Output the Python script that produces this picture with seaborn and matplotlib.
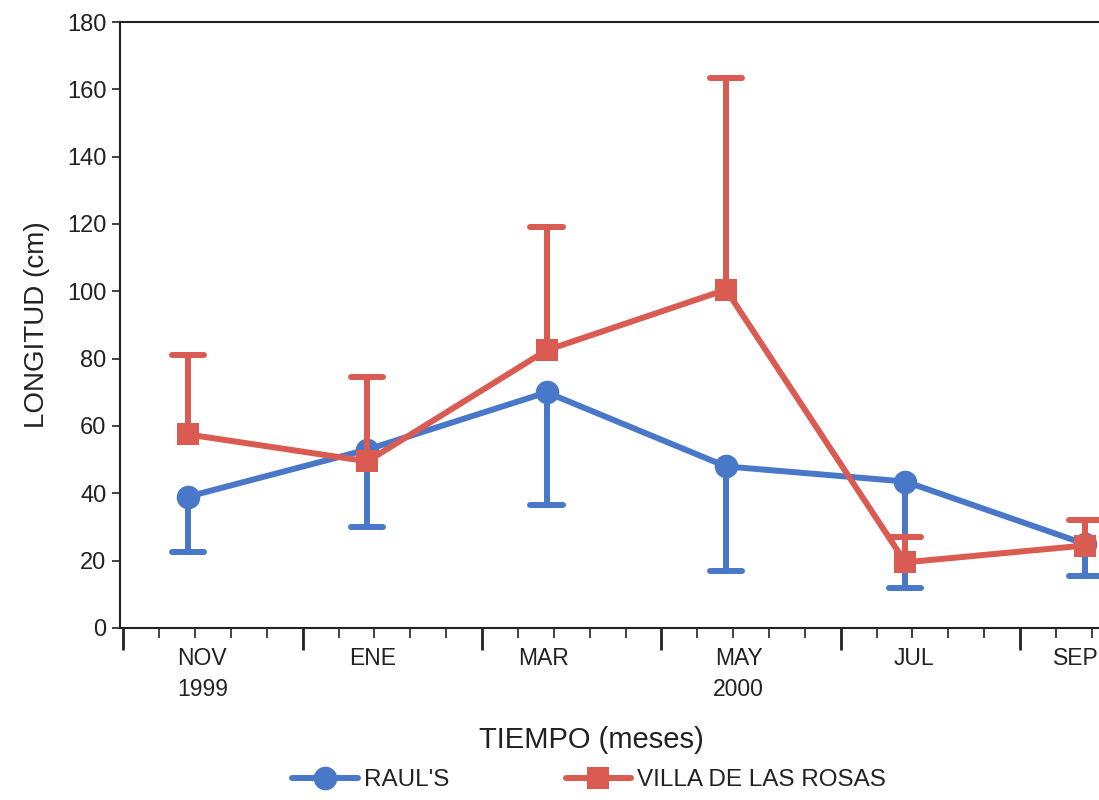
import numpy as np
import pandas as pd
import matplotlib
matplotlib.use("Agg")
import matplotlib.pyplot as plt
import seaborn as sns

# values
months = ["NOV", "ENE", "MAR", "MAY", "JUL", "SEP"]
years = ["1999", "", "", "2000", "", ""]
raul_mean = [39, 53, 70, 48, 43.5, 25]
raul_low = [22.5, 30, 36.5, 17, 12, 15.5]
villa_mean = [57.5, 49.5, 82.5, 100.5, 19.5, 24.5]
villa_high = [81, 74.5, 119, 163.5, 27, 32]

blue = "#4a78c8"
red = "#d95b52"

df = pd.DataFrame({"mes": np.arange(len(months)),
                   "raul": raul_mean, "raul_low": raul_low,
                   "villa": villa_mean, "villa_high": villa_high})

sns.set_style("ticks")
plt.rcParams["font.family"] = ["Liberation Sans", "DejaVu Sans"]

fig = plt.figure(figsize=(10.99, 8), dpi=100)
ax = fig.add_axes([0.109, 0.215, 0.891, 0.7575])

# error bars (one sided)
cap = 0.09
eb = ax.vlines(df.mes, df.raul_low, df.raul, color=blue, lw=4.3, zorder=2)
hb = ax.hlines(df.raul_low, df.mes - cap, df.mes + cap, color=blue, lw=4.3, zorder=2)
er = ax.vlines(df.mes, df.villa, df.villa_high, color=red, lw=4.3, zorder=4)
hr = ax.hlines(df.villa_high, df.mes - cap, df.mes + cap, color=red, lw=4.3, zorder=4)
for c in (eb, hb, er, hr):
    c.set_capstyle("round")

sns.lineplot(data=df, x="mes", y="raul", ax=ax, color=blue, lw=4.3,
             marker="o", markersize=17, markeredgewidth=0, label="RAUL'S", zorder=3)
sns.lineplot(data=df, x="mes", y="villa", ax=ax, color=red, lw=4.3,
             marker="s", markersize=16, markeredgewidth=0,
             label="VILLA DE LAS ROSAS", zorder=5)

ax.set_xlim(-0.38, 5.08)
ax.set_ylim(0, 180)
ax.set_yticks(np.arange(0, 181, 20))
ax.tick_params(axis="y", labelsize=17, length=6, width=1.2, colors="#222222")

# date-like axis: long ticks every two months, short ones in between
ax.set_xticks(np.arange(-0.36, 5.0, 1.0))
ax.set_xticks(np.arange(-0.36, 5.08, 0.2), minor=True)
ax.set_xticklabels([])
ax.tick_params(axis="x", which="major", length=16, width=2, colors="#222222")
ax.tick_params(axis="x", which="minor", length=7, width=1.2, colors="#222222")
label_x = [0.08, 1.03, 1.98, 3.07, 4.05, 4.95]
for x, m, y in zip(label_x, months, years):
    ax.text(x, -0.032, m + ("\n" + y if y else ""), transform=ax.get_xaxis_transform(),
            ha="center", va="top", fontsize=16.5, color="#222222", linespacing=1.45)

ax.set_xlabel("")
ax.set_ylabel("LONGITUD (cm)", fontsize=20, color="#222222", labelpad=12)
fig.text(0.538, 0.075, "TIEMPO (meses)", ha="center", va="center", fontsize=21, color="#222222")

for s in ["left", "bottom", "top"]:
    ax.spines[s].set_linewidth(1.5)
    ax.spines[s].set_color("#222222")
ax.spines["right"].set_visible(False)

ax.legend_.remove()
h, l = ax.get_legend_handles_labels()
fig.legend(h, l, loc="center", bbox_to_anchor=(0.536, 0.025), ncol=2, frameon=False,
           fontsize=17.5, handlelength=2.7, columnspacing=4.8, handletextpad=0.25,
           labelcolor="#222222")

fig.savefig("out.png", dpi=100)
